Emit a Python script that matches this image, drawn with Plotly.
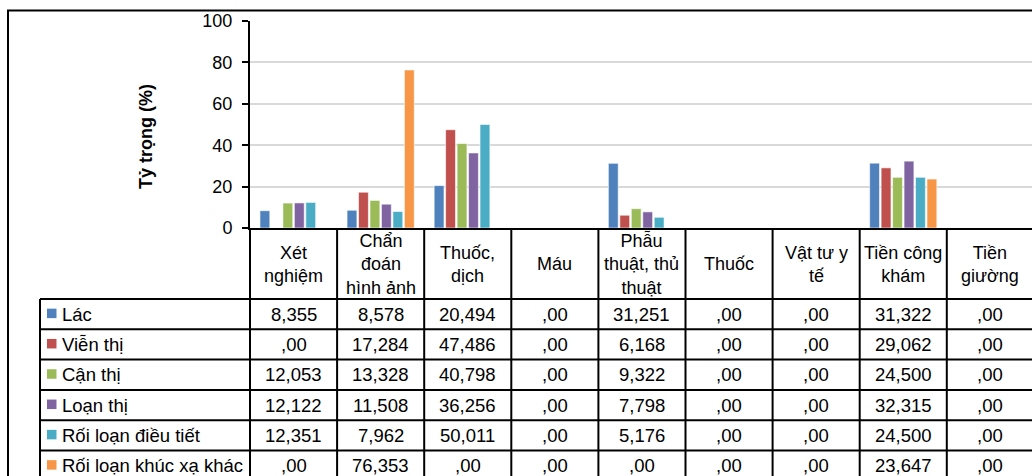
import plotly.graph_objects as go

# ---------------- data ----------------
categories = ["Xét nghiệm", "Chẩn đoán hình ảnh", "Thuốc, dịch", "Máu",
              "Phẫu thuật, thủ thuật", "Thuốc", "Vật tư y tế",
              "Tiền công khám", "Tiền giường"]
category_labels = ["Xét<br>nghiệm", "Chẩn<br>đoán<br>hình ảnh", "Thuốc,<br>dịch", "Máu",
                   "Phẫu<br>thuật, thủ<br>thuật", "Thuốc", "Vật tư y<br>tế",
                   "Tiền công<br>khám", "Tiền<br>giường"]
series_names = ["Lác", "Viễn thị", "Cận thị", "Loạn thị",
                "Rối loạn điều tiết", "Rối loạn khúc xạ khác"]
lac = [8.355, 8.578, 20.494, 0, 31.251, 0, 0, 31.322, 0]
vien_thi = [0, 17.284, 47.486, 0, 6.168, 0, 0, 29.062, 0]
can_thi = [12.053, 13.328, 40.798, 0, 9.322, 0, 0, 24.500, 0]
loan_thi = [12.122, 11.508, 36.256, 0, 7.798, 0, 0, 32.315, 0]
roi_loan_dieu_tiet = [12.351, 7.962, 50.011, 0, 5.176, 0, 0, 24.500, 0]
roi_loan_khuc_xa_khac = [0, 76.353, 0, 0, 0, 0, 0, 23.647, 0]
y_ticks = [0, 20, 40, 60, 80, 100]
y_title = "Tỷ trọng (%)"

series_values = [lac, vien_thi, can_thi, loan_thi, roi_loan_dieu_tiet, roi_loan_khuc_xa_khac]
colors = ["#4F81BD", "#C0504D", "#9BBB59", "#8064A2", "#4BACC6", "#F79646"]

# ---------------- layout constants (pixels) ----------------
W, H = 1032, 476
FONT = "Arial, Liberation Sans, sans-serif"
plot_left, plot_top, plot_bottom = 250, 21, 228
table_left = 40
header_bottom = 299
row_h = 30.3
cell_font = 18.5


def px(x):
    return x / W


def py(y):
    return 1 - y / H


def fmt(v):
    if v == 0:
        return ",00"
    return f"{v:.3f}".replace(".", ",")


fig = go.Figure()
for name, vals, col in zip(series_names, series_values, colors):
    fig.add_trace(go.Bar(
        x=list(range(len(categories))), y=vals, name=name,
        marker=dict(color=col, line=dict(color="white", width=0.6)),
        showlegend=False, hovertext=categories,
    ))

shapes = []
annotations = []
line = dict(color="black", width=2)

# outer chart border
shapes.append(dict(type="rect", xref="paper", yref="paper",
                   x0=px(8), x1=px(W + 20), y0=py(H + 20), y1=py(10.5),
                   line=dict(color="black", width=2), fillcolor="rgba(0,0,0,0)"))

n_cat = len(categories)
n_rows = len(series_names)

# header labels
for i, lab in enumerate(category_labels):
    annotations.append(dict(x=i, y=py((plot_bottom + header_bottom) / 2 + 0.5), xref="x", yref="paper",
                            text=lab, showarrow=False, xanchor="center", yanchor="middle",
                            font=dict(family=FONT, size=18, color="black")))

# vertical table lines (category boundaries)
for i in range(1, n_cat + 1):
    shapes.append(dict(type="line", xref="x", yref="paper", x0=i - 0.5, x1=i - 0.5,
                       y0=py(plot_bottom), y1=py(H + 10), line=line))
shapes.append(dict(type="line", xref="paper", yref="paper", x0=px(plot_left), x1=px(plot_left),
                   y0=py(plot_bottom), y1=py(H + 10), line=line))
shapes.append(dict(type="line", xref="paper", yref="paper", x0=px(table_left), x1=px(table_left),
                   y0=py(header_bottom), y1=py(H + 10), line=line))

# rows
for r, (name, vals, col) in enumerate(zip(series_names, series_values, colors)):
    top = header_bottom + r * row_h
    mid = top + row_h / 2
    shapes.append(dict(type="line", xref="paper", yref="paper", x0=px(table_left), x1=1.05,
                       y0=py(top), y1=py(top), line=line))
    shapes.append(dict(type="rect", xref="paper", yref="paper",
                       x0=px(47), x1=px(56.5), y0=py(mid - 5.5), y1=py(mid + 4),
                       line=dict(width=0), fillcolor=col))
    annotations.append(dict(x=px(60), y=py(mid), xref="paper", yref="paper", text=name,
                            showarrow=False, xanchor="left", yanchor="middle",
                            font=dict(family=FONT, size=cell_font, color="black")))
    for i, v in enumerate(vals):
        annotations.append(dict(x=i, y=py(mid), xref="x", yref="paper", text=fmt(v),
                                showarrow=False, xanchor="center", yanchor="middle",
                                font=dict(family=FONT, size=cell_font, color="black")))
shapes.append(dict(type="line", xref="paper", yref="paper", x0=px(table_left), x1=1.05,
                   y0=py(header_bottom + n_rows * row_h), y1=py(header_bottom + n_rows * row_h), line=line))

# y-axis title
annotations.append(dict(x=px(146), y=py(137), xref="paper", yref="paper", text=f"<b>{y_title}</b>",
                        textangle=-90, showarrow=False, xanchor="center", yanchor="middle",
                        font=dict(family=FONT, size=18, color="black")))

cat_w = 87.1
x_end = -0.5 + (W - plot_left) / cat_w

fig.update_layout(
    template="none",
    width=W, height=H, autosize=False,
    margin=dict(l=0, r=0, t=0, b=0, pad=0, autoexpand=False),
    paper_bgcolor="white", plot_bgcolor="white",
    barmode="group", bargap=0.21, bargroupgap=0.14,
    font=dict(family=FONT, size=18, color="black"),
    xaxis=dict(domain=[px(plot_left), 1], range=[-0.5, x_end], showticklabels=False,
               showgrid=False, zeroline=False, showline=True, linecolor="black", linewidth=2,
               ticks="", fixedrange=True, automargin=False),
    yaxis=dict(domain=[py(plot_bottom), py(plot_top)], range=[0, 100], tickvals=y_ticks,
               ticktext=[str(t) for t in y_ticks], ticks="outside", ticklen=6, tickwidth=1.5,
               tickcolor="black", showline=True, linecolor="black", linewidth=2,
               showgrid=True, gridcolor="#D9D9D9", gridwidth=1.5, zeroline=False, automargin=False,
               tickfont=dict(family=FONT, size=18, color="black"), ticklabelstandoff=6),
    shapes=shapes, annotations=annotations,
)

fig.write_html("out.html")
